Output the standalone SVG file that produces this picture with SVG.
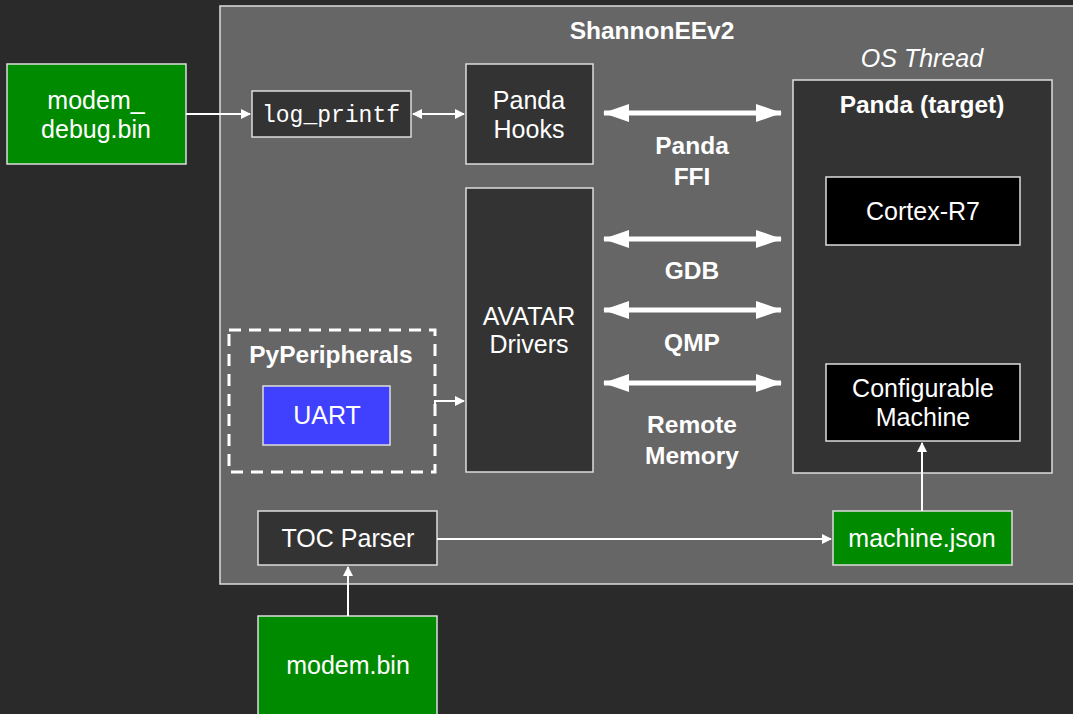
<svg xmlns="http://www.w3.org/2000/svg" width="1073" height="714" viewBox="0 0 1073 714">
<defs>
<style>
.t{font-family:"Liberation Sans",Arial,sans-serif;fill:#fff;text-anchor:middle;font-size:25px}
.b{font-weight:bold;font-size:24.5px}
.m{font-family:"Liberation Mono","DejaVu Sans Mono",monospace;fill:#fff;text-anchor:middle;font-size:23px}
.box{stroke:#ddd;stroke-width:1.5}
.dk{fill:#333}
.bk{fill:#000}
.gr{fill:#008a00}
.ln{stroke:#fff;stroke-width:2;fill:none}
.th{stroke:#fff;stroke-width:5;fill:none}
</style>
<marker id="a" markerWidth="10" markerHeight="10" refX="9" refY="5" orient="auto-start-reverse" markerUnits="userSpaceOnUse"><path d="M0,0 L10,5 L0,10 Z" fill="#fff"/></marker>
<marker id="A" markerWidth="26" markerHeight="18" refX="25" refY="9" orient="auto-start-reverse" markerUnits="userSpaceOnUse"><path d="M0,0 L26,9 L0,18 Z" fill="#fff"/></marker>
</defs>
<rect width="1073" height="714" fill="#2a2a2a"/>
<g id="shannon">
<rect x="220" y="6" width="860" height="578" fill="#666" stroke="#ddd" stroke-width="1.5"/>
<text class="t b" x="652" y="39">ShannonEEv2</text>
</g>
<g id="modem_debug"><rect class="box gr" x="7" y="64" width="179" height="100"/><text class="t" x="96" y="109">modem_</text><text class="t" x="96" y="138">debug.bin</text></g>
<g id="log_printf"><rect class="box dk" x="252" y="91" width="159" height="46"/><text class="m" x="331" y="122">log_printf</text></g>
<g id="panda_hooks"><rect class="box dk" x="466" y="64" width="127" height="100"/><text class="t" x="529" y="109">Panda</text><text class="t" x="529" y="138">Hooks</text></g>
<g id="avatar"><rect class="box dk" x="466" y="188" width="127" height="284"/><text class="t" x="529" y="325">AVATAR</text><text class="t" x="529" y="353">Drivers</text></g>
<g id="os_thread"><text class="t" x="922" y="67" font-style="italic">OS Thread</text></g>
<g id="panda_target"><rect class="box dk" x="793" y="80" width="259" height="393"/><text class="t b" x="922" y="113">Panda (target)</text></g>
<g id="cortex"><rect class="box bk" x="826" y="177" width="194" height="68"/><text class="t" x="923" y="220">Cortex-R7</text></g>
<g id="config_machine"><rect class="box bk" x="826" y="364" width="194" height="77"/><text class="t" x="923" y="397">Configurable</text><text class="t" x="923" y="426">Machine</text></g>
<g id="pyperipherals"><rect x="229" y="330" width="206" height="142" fill="none" stroke="#fff" stroke-width="3" stroke-dasharray="12,8"/><text class="t b" x="331" y="363">PyPeripherals</text></g>
<g id="uart"><rect class="box" x="263" y="386" width="127" height="59" fill="#4040ff"/><text class="t" x="327" y="424">UART</text></g>
<g id="toc_parser"><rect class="box dk" x="258" y="511" width="179" height="54"/><text class="t" x="348" y="547">TOC Parser</text></g>
<g id="machine_json"><rect class="box gr" x="833" y="511" width="179" height="54"/><text class="t" x="922" y="547">machine.json</text></g>
<g id="modem_bin"><rect class="box gr" x="258" y="616" width="179" height="110"/><text class="t" x="348" y="674">modem.bin</text></g>
<g id="connectors">
<path class="ln" d="M186,114 H250" marker-end="url(#a)"/>
<path class="ln" d="M413,114 H464" marker-start="url(#a)" marker-end="url(#a)"/>
<path class="th" d="M604,113 H781" marker-start="url(#A)" marker-end="url(#A)"/>
<path class="th" d="M604,239 H781" marker-start="url(#A)" marker-end="url(#A)"/>
<path class="th" d="M604,310 H781" marker-start="url(#A)" marker-end="url(#A)"/>
<path class="th" d="M604,383 H781" marker-start="url(#A)" marker-end="url(#A)"/>
<path class="ln" d="M435,414 V401 H464" marker-end="url(#a)"/>
<path class="ln" d="M437,539 H831" marker-end="url(#a)"/>
<path class="ln" d="M348,616 V567" marker-end="url(#a)"/>
<path class="ln" d="M922,511 V443" marker-end="url(#a)"/>
</g>
<g id="labels">
<text class="t b" x="692" y="154">Panda</text>
<text class="t b" x="692" y="185">FFI</text>
<text class="t b" x="692" y="279">GDB</text>
<text class="t b" x="692" y="351">QMP</text>
<text class="t b" x="692" y="433">Remote</text>
<text class="t b" x="692" y="464">Memory</text>
</g>
</svg>
